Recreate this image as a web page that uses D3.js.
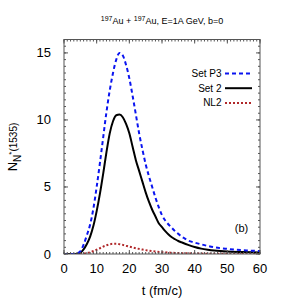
<!DOCTYPE html>
<head>
  <style>
    body { margin: 0; background: #fff; }
    text { font-family: "Liberation Sans", Arial, sans-serif; fill: #000; }
  </style>
</head>
<title>N*(1535) yield</title>
<body>
<script src="https://cdn.jsdelivr.net/npm/d3@7"></script>
<script>

// data
var tP3 = [0,2,3,4,5,6,7,8,9,10,11,12,13,14,15,16,17,18,19,20,21,22,23,24,25,26,27,28,29,30,31,32,33,34,35,36,37,38,39,40,42,44,46,48,50,52,54,56,58,60];
var vP3 = [0,0,0,0.05,0.2,0.7,1.4,2.2,3.4,5.0,6.8,8.7,10.6,12.2,13.5,14.5,15.0,14.8,14.1,13.1,11.8,10.4,9.0,7.8,6.7,5.8,5.0,4.2,3.5,2.9,2.5,2.2,1.95,1.7,1.5,1.3,1.15,1.0,0.92,0.85,0.72,0.6,0.5,0.43,0.38,0.33,0.29,0.26,0.24,0.22];

var tS2 = [0,2,3,4,5,6,7,8,9,10,11,12,13,14,15,16,17,18,19,20,21,22,23,24,25,26,27,28,29,30,31,32,33,34,35,36,38,40,42,44,46,48,50,55,60];
var vS2 = [0,0,0,0.02,0.1,0.35,0.75,1.3,2.1,3.2,4.5,6.0,7.6,9.0,9.9,10.35,10.4,10.2,9.7,9.0,8.0,7.0,6.2,5.4,4.6,3.9,3.3,2.8,2.3,2.0,1.7,1.45,1.25,1.1,0.97,0.87,0.68,0.52,0.4,0.32,0.26,0.22,0.19,0.14,0.11];

var tNL2 = [0,4,5,6,7,8,9,10,11,12,13,14,15,16,17,18,19,20,22,24,26,28,30,32,34,36,38,40,45,50,55,60];
var vNL2 = [0,0,0.01,0.03,0.07,0.13,0.22,0.32,0.43,0.55,0.65,0.72,0.76,0.76,0.73,0.68,0.62,0.55,0.43,0.33,0.25,0.19,0.14,0.11,0.08,0.06,0.05,0.04,0.02,0.015,0.01,0.01];

var xTicks = [0,10,20,30,40,50,60];
var yTicks = [0,5,10,15];
var seriesNames = ["Set P3","Set 2","NL2"];

var W = 288, H = 302;
var m = {t: 39.5, r: 28, b: 48, l: 64};
var w = W - m.l - m.r;
var h = H - m.t - m.b;

var x = d3.scaleLinear().domain([0,60]).range([0,w]);
var y = d3.scaleLinear().domain([0,16]).range([h,0]);

var svg = d3.select("body").append("svg")
    .attr("width", W).attr("height", H);
var g = svg.append("g").attr("transform","translate(" + m.l + "," + m.t + ")");

function zip(ts, vs) { return ts.map(function(t,i){ return {t:t, v:vs[i]}; }); }
var series = [
  {name: seriesNames[0], data: zip(tP3,vP3), color: "#0a14f0", dash: "4,3", width: 2},
  {name: seriesNames[1], data: zip(tS2,vS2), color: "#000", dash: null, width: 2},
  {name: seriesNames[2], data: zip(tNL2,vNL2), color: "#b0282a", dash: "2,2", width: 2}
];

var line = d3.line().curve(d3.curveMonotoneX)
    .x(function(d){ return x(d.t); })
    .y(function(d){ return y(d.v); });

g.append("defs").append("clipPath").attr("id","clip")
  .append("rect").attr("width", w).attr("height", h);

// curves (drawn back to front)
series.slice().reverse().forEach(function(s){
  g.append("path")
    .datum(s.data)
    .attr("clip-path","url(#clip)")
    .attr("d", line)
    .attr("fill","none")
    .attr("stroke", s.color)
    .attr("stroke-width", s.width)
    .attr("stroke-dasharray", s.dash);
});

// ticks on all four sides, pointing in
var frame = "#555";
var xMinor = d3.range(0,61,1), yMinor = d3.range(0,16.01,0.5);
function xt(vals, len) {
  vals.forEach(function(v){
    g.append("line").attr("x1",x(v)).attr("x2",x(v)).attr("y1",h).attr("y2",h-len).attr("stroke",frame);
    g.append("line").attr("x1",x(v)).attr("x2",x(v)).attr("y1",0).attr("y2",len).attr("stroke",frame);
  });
}
function yt(vals, len) {
  vals.forEach(function(v){
    g.append("line").attr("y1",y(v)).attr("y2",y(v)).attr("x1",0).attr("x2",len).attr("stroke",frame);
    g.append("line").attr("y1",y(v)).attr("y2",y(v)).attr("x1",w).attr("x2",w-len).attr("stroke",frame);
  });
}
xt(xMinor, 2); xt(xTicks, 4);
yt(yMinor, 2); yt(yTicks, 4);

g.append("rect").attr("width",w).attr("height",h)
  .attr("fill","none").attr("stroke",frame).attr("stroke-width",1);

// tick labels
g.selectAll(".xl").data(xTicks).enter().append("text")
  .attr("x", function(d){ return x(d); })
  .attr("y", h + 19)
  .attr("text-anchor","middle")
  .style("font-size","13px")
  .text(function(d){ return d; });

g.selectAll(".yl").data(yTicks).enter().append("text")
  .attr("x", -13)
  .attr("y", function(d){ return y(d) + 4.5; })
  .attr("text-anchor","end")
  .style("font-size","13px")
  .text(function(d){ return d; });

// axis titles
g.append("text").attr("x", w/2).attr("y", h + 41)
  .attr("text-anchor","middle").style("font-size","13px").text("t (fm/c)");

var yl = svg.append("text")
  .attr("transform","translate(17,147) rotate(-90)")
  .attr("text-anchor","middle")
  .style("font-size","13px");
yl.append("tspan").text("N");
yl.append("tspan").attr("dy",4).style("font-size","10px").text("N");
yl.append("tspan").attr("dy",-7).style("font-size","8px").text("*");
yl.append("tspan").attr("dy",3).style("font-size","10px").text("(1535)");

// title
var tt = svg.append("text").attr("x", 162).attr("y", 24)
  .attr("text-anchor","middle").style("font-size","9px");
tt.append("tspan").attr("dy",-3).style("font-size","7px").text("197");
tt.append("tspan").attr("dy",3).text("Au + ");
tt.append("tspan").attr("dy",-3).style("font-size","7px").text("197");
tt.append("tspan").attr("dy",3).text("Au, E=1A GeV, b=0");

// legend
series.forEach(function(s,i){
  var ly = 73.5 + i*14.7 - m.t;
  g.append("text").attr("x", 221.5 - m.l).attr("y", ly + 3.5)
    .attr("text-anchor","end").style("font-size","10px").text(s.name);
  g.append("line").attr("x1", 225 - m.l).attr("x2", 252 - m.l)
    .attr("y1", ly).attr("y2", ly)
    .attr("stroke", s.color).attr("stroke-width", s.width)
    .attr("stroke-dasharray", s.dash);
});

g.append("text").attr("x", 241.5 - m.l).attr("y", 231.5 - m.t)
  .attr("text-anchor","middle").style("font-size","11px").text("(b)");

</script>
</body>
